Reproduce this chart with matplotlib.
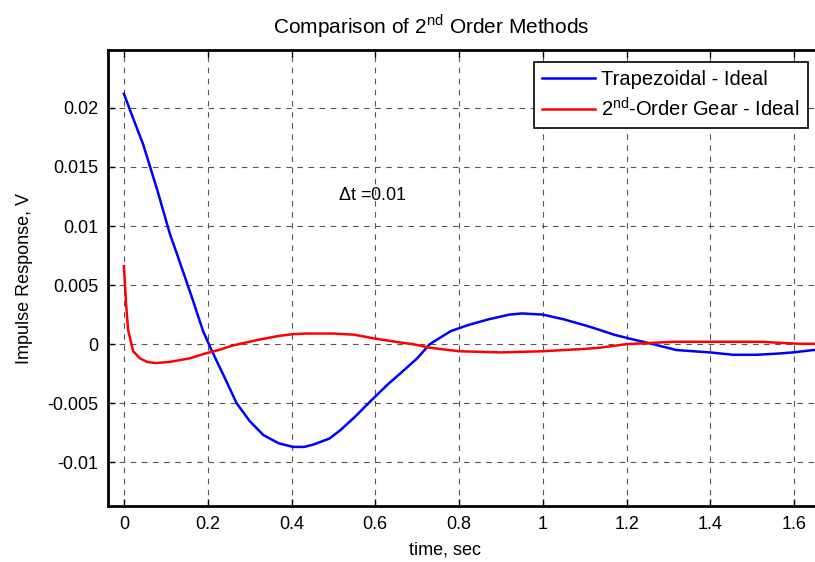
import matplotlib
matplotlib.use('Agg')
import matplotlib.pyplot as plt
import numpy as np

# values
t_trap = [0.0, 0.02, 0.046, 0.08, 0.11, 0.126, 0.16, 0.189, 0.209, 0.24, 0.269, 0.30,
          0.333, 0.37, 0.404, 0.43, 0.452, 0.49, 0.516, 0.55, 0.595, 0.63, 0.659, 0.70,
          0.73, 0.78, 0.82, 0.87, 0.92, 0.95, 1.0, 1.05, 1.1, 1.136, 1.17, 1.215, 1.263,
          1.319, 1.399, 1.454, 1.51, 1.56, 1.597, 1.645, 1.7]
v_trap = [0.0212, 0.0193, 0.0169, 0.0130, 0.0093, 0.0077, 0.0042, 0.0011, -0.0005, -0.0028,
          -0.0050, -0.0065, -0.0077, -0.0084, -0.0087, -0.0087, -0.0085, -0.0080, -0.0073,
          -0.0062, -0.0046, -0.0034, -0.0025, -0.0012, 0.0, 0.0011, 0.0016, 0.0021, 0.0025,
          0.0026, 0.0025, 0.0021, 0.0016, 0.0012, 0.0008, 0.0004, 0.0, -0.0005, -0.0007,
          -0.0009, -0.0009, -0.0008, -0.0007, -0.0005, -0.0004]

t_gear = [0.0, 0.005, 0.01, 0.022, 0.038, 0.055, 0.074, 0.11, 0.157, 0.193, 0.226, 0.261,
          0.325, 0.37, 0.404, 0.436, 0.5, 0.55, 0.595, 0.659, 0.69, 0.73, 0.8, 0.9, 1.0,
          1.1, 1.136, 1.2, 1.31, 1.525, 1.55, 1.613, 1.7]
v_gear = [0.0066, 0.0035, 0.0012, -0.0006, -0.0012, -0.0015, -0.0016, -0.0015, -0.0012,
          -0.0008, -0.0005, -0.0001, 0.0004, 0.0007, 0.00085, 0.0009, 0.0009, 0.0008, 0.0005,
          0.00014, 0.0, -0.0003, -0.0006, -0.0007, -0.0006, -0.0004, -0.0003, 0.0, 0.0002,
          0.0002, 0.00014, 0.00003, 0.00003]

x_ticks = [0, 0.2, 0.4, 0.6, 0.8, 1, 1.2, 1.4, 1.6]
x_labels = ['0', '0.2', '0.4', '0.6', '0.8', '1', '1.2', '1.4', '1.6']
y_ticks = [-0.01, -0.005, 0, 0.005, 0.01, 0.015, 0.02]
y_labels = ['-0.01', '-0.005', '0', '0.005', '0.01', '0.015', '0.02']

plt.rcParams['font.family'] = ['Liberation Sans', 'DejaVu Sans']
plt.rcParams['mathtext.fontset'] = 'custom'
plt.rcParams['mathtext.rm'] = 'Liberation Sans'

fig = plt.figure(figsize=(8.15, 5.62), dpi=100)
# axes run past the right edge of the figure, like the reference crop
ax = fig.add_axes([108 / 815, 1 - 506 / 562, 729 / 815, 456 / 562])

ax.plot(t_trap, v_trap, color='#0000ff', lw=1.8, label='Trapezoidal - Ideal')
ax.plot(t_gear, v_gear, color='#ff0000', lw=1.8, label='2$^{\\rm nd}$-Order Gear - Ideal')

ax.set_xlim(-0.038, 1.702)
ax.set_ylim(-0.0137, 0.0249)
ax.set_xticks(x_ticks)
ax.set_xticklabels(x_labels)
ax.set_yticks(y_ticks)
ax.set_yticklabels(y_labels)
ax.tick_params(direction='in', length=5, width=1, labelsize=13, top=True, right=True,
               pad=7)

ax.grid(True, color='#555555', linestyle=(0, (5, 5)), linewidth=0.8)
for s in ax.spines.values():
    s.set_linewidth(2)

ax.set_title('Comparison of 2$^{\\rm nd}$ Order Methods', fontsize=15, x=0.444, pad=12)
ax.set_xlabel('time, sec', fontsize=13, labelpad=6, x=0.462)
ax.set_ylabel('Impulse Response, V', fontsize=13, labelpad=10)

ax.text(0.511, 0.0126, '$\\Delta$t =0.01', fontsize=13, va='center', ha='left')

leg = ax.legend(loc='upper left', bbox_to_anchor=(534 / 815, 1 - 62 / 562),
                bbox_transform=fig.transFigure, fontsize=14.5, fancybox=False,
                framealpha=1, edgecolor='black', handlelength=2.65, handletextpad=0.3,
                borderaxespad=0, borderpad=0.4, labelspacing=0.4)
leg.get_frame().set_linewidth(1.2)

fig.savefig('out.png', dpi=100)
